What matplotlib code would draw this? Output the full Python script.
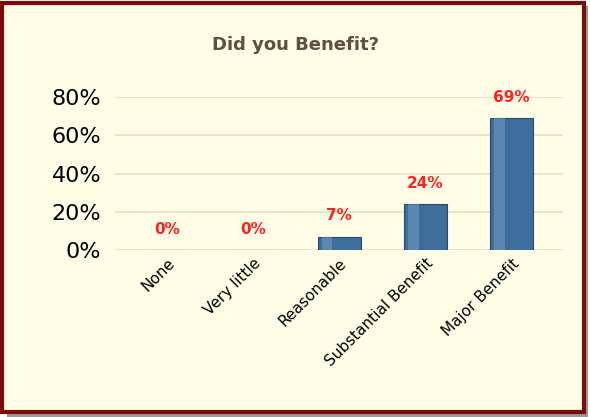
import matplotlib.pyplot as plt
import numpy as np
from matplotlib.patches import Rectangle

categories = ["None", "Very little", "Reasonable", "Substantial Benefit", "Major Benefit"]
values = [0, 0, 7, 24, 69]
labels = ["0%", "0%", "7%", "24%", "69%"]
yticks = [0, 20, 40, 60, 80]

bg = "#FFFDE6"
fig = plt.figure(figsize=(5.9, 4.17), dpi=100)
fig.patch.set_facecolor("white")
# shadow + dark red frame
fig.patches.append(Rectangle((0.012, 0.0), 0.985, 0.985, transform=fig.transFigure,
                             facecolor="#9a9a9a", edgecolor="none", zorder=-3))
fig.patches.append(Rectangle((0.004, 0.012), 0.985, 0.982, transform=fig.transFigure,
                             facecolor=bg, edgecolor="#7A0C0C", linewidth=3, zorder=-2))

ax = fig.add_axes([0.195, 0.40, 0.76, 0.367])
ax.set_facecolor(bg)
x = np.arange(len(categories))
bars = ax.bar(x, values, width=0.5, color="#3E6E9C", edgecolor="#27496b", linewidth=0.8, zorder=3)
# simple sheen on each bar
for b in bars:
    if b.get_height() > 0:
        ax.add_patch(Rectangle((b.get_x() + 0.05, 0), 0.12, b.get_height(),
                               facecolor="#7FA6CC", alpha=0.45, edgecolor="none", zorder=4))
for xi, v, lab in zip(x, values, labels):
    ax.text(xi, v + 7, lab, ha="center", va="bottom", color="#FF2020",
            fontsize=11, fontweight="bold")

ax.set_ylim(0, 80)
ax.set_xlim(-0.6, 4.6)
ax.set_yticks(yticks)
ax.set_yticklabels([f"{t}%" for t in yticks], fontsize=16)
ax.yaxis.grid(True, color="#EBDDBB", linewidth=1.2, zorder=0)
ax.set_xticks(x)
ax.set_xticklabels(categories, rotation=45, ha="right", rotation_mode="anchor", fontsize=11)
for s in ax.spines.values():
    s.set_visible(False)
ax.tick_params(length=0, pad=10)
ax.tick_params(axis="x", pad=4)

fig.text(0.5, 0.892, "Did you Benefit?", ha="center", va="center", fontsize=13,
         fontweight="bold", color="#5E5040")

fig.savefig("out.png", dpi=100, facecolor=fig.get_facecolor())
